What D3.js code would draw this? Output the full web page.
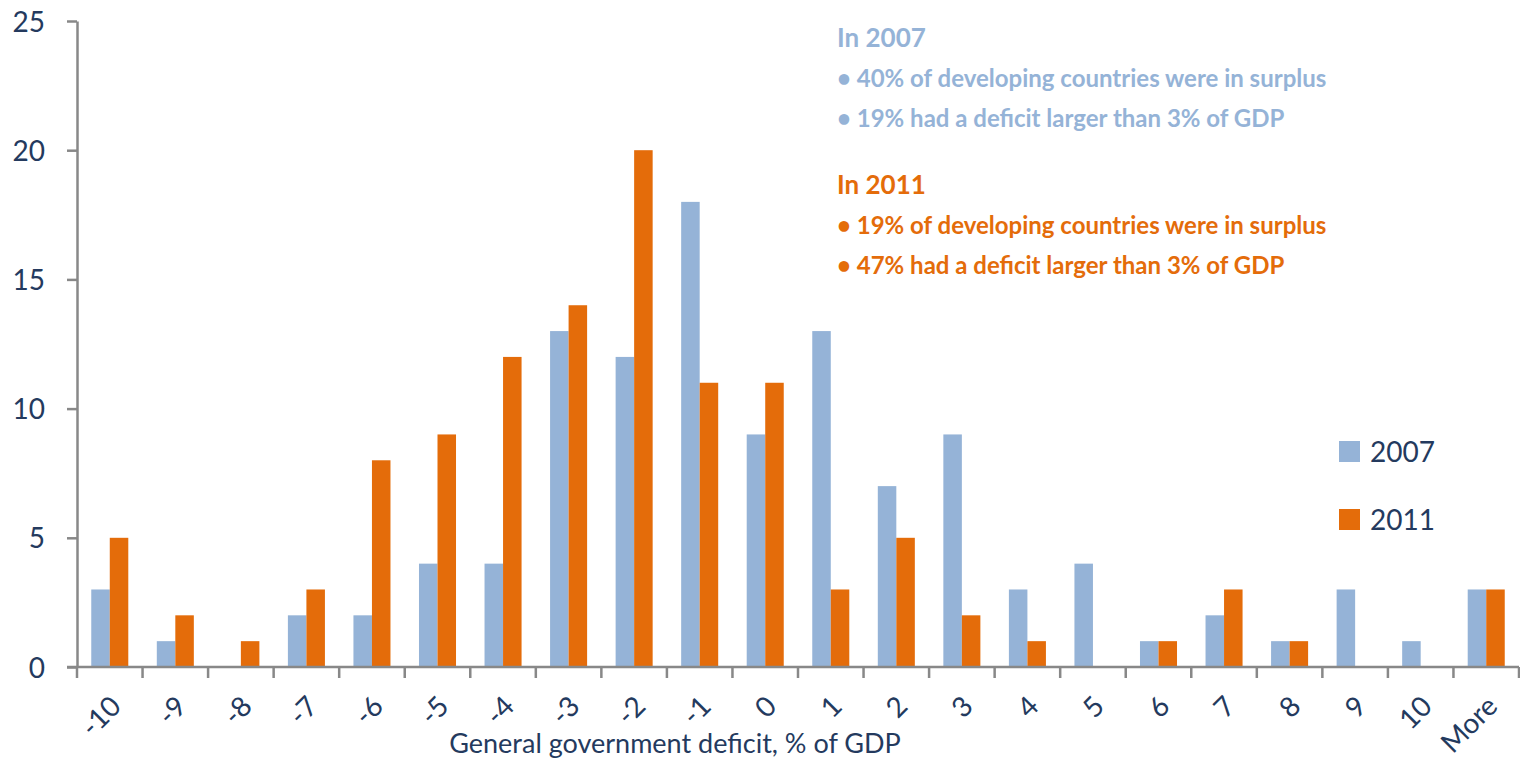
<!DOCTYPE html>
<html>
<head>
<meta charset="utf-8">
<script src="https://cdn.jsdelivr.net/npm/d3@7"></script>
<style>
  body { margin: 0; background: #fff; }
  svg { display: block; }
  text { font-family: Lato, "Open Sans", sans-serif; }
</style>
</head>
<body>
<div id="chart"></div>
<script>
// categories and values
var categories = ["-10", "-9", "-8", "-7", "-6", "-5", "-4", "-3", "-2", "-1", "0",
	"1", "2", "3", "4", "5", "6", "7", "8", "9", "10", "More"];
var values2007 = [3, 1, 0, 2, 2, 4, 4, 13, 12, 18, 9, 13, 7, 9, 3, 4, 1, 2, 1, 3, 1, 3];
var values2011 = [5, 2, 1, 3, 8, 9, 12, 14, 20, 11, 11, 3, 5, 2, 1, 0, 1, 3, 1, 0, 0, 3];
var seriesNames = ["2007", "2011"];
var yTicks = [0, 5, 10, 15, 20, 25];

var notes2007 = ["In 2007", "\u2022 40% of developing countries were in surplus", "\u2022 19% had a deficit larger than 3% of GDP"];
var notes2011 = ["In 2011", "\u2022 19% of developing countries were in surplus", "\u2022 47% had a deficit larger than 3% of GDP"];

var width = 1520;
var height = 778;
var margin = { top: 21, right: 1, bottom: 111, left: 77 };

var textColour = "#243a5e";
var axisColour = "#888";
var colour = d3.scaleOrdinal()
	.domain(seriesNames)
	.range(["#95b3d7", "#e46c0a"]);

var data = categories.map(function(c, i) {
	return { key: c, values: [values2007[i], values2011[i]] };
});

var svg = d3.select("#chart")
	.append("svg")
	.attr("width", width)
	.attr("height", height);

var w = width - margin.left - margin.right;
var h = height - margin.top - margin.bottom;

var g = svg.append("g")
	.attr("transform", "translate(" + margin.left + "," + margin.top + ")");

var x = d3.scaleBand()
	.domain(categories)
	.range([0, w])
	.padding(0);

var x1 = d3.scaleBand()
	.domain(seriesNames)
	.range([0, x.bandwidth()])
	.paddingInner(0)
	.paddingOuter(0.77);

var y = d3.scaleLinear()
	.domain([0, 25])
	.range([h, 0]);

// bars
var groups = g.append("g")
	.attr("class", "bars")
	.selectAll("g")
	.data(data)
	.enter()
	.append("g")
	.attr("transform", function(d) {
		return "translate(" + x(d.key) + ",0)";
	});

groups.selectAll("rect")
	.data(function(d) {
		return seriesNames.map(function(s, j) {
			return { series: s, value: d.values[j] };
		});
	})
	.enter()
	.append("rect")
	.attr("x", function(d) { return x1(d.series); })
	.attr("width", x1.bandwidth())
	.attr("y", function(d) { return y(d.value); })
	.attr("height", function(d) { return h - y(d.value); })
	.attr("fill", function(d) { return colour(d.series); });

// y axis
var yAxis = g.append("g")
	.attr("class", "y-axis")
	.call(d3.axisLeft(y).tickValues(yTicks).tickSize(10).tickPadding(22).tickSizeOuter(0));

yAxis.select(".domain").attr("stroke", axisColour).attr("stroke-width", 2.5);
yAxis.selectAll(".tick line").attr("stroke", axisColour).attr("stroke-width", 2.5);
yAxis.selectAll(".tick text")
	.attr("fill", textColour)
	.style("font-size", "28px")
	.attr("dy", "0.36em");

// x axis, labels only; ticks sit on band edges
var xAxis = g.append("g")
	.attr("class", "x-axis")
	.attr("transform", "translate(0," + h + ")")
	.call(d3.axisBottom(x).tickSize(0).tickSizeOuter(0));

xAxis.select(".domain").attr("stroke", axisColour).attr("stroke-width", 2.5)
	.attr("d", "M-10,0H" + w);

xAxis.selectAll(".tick text")
	.attr("fill", textColour)
	.style("font-size", "28px")
	.style("text-anchor", "end")
	.attr("dy", "0")
	.attr("y", 0)
	.attr("transform", "translate(13,41) rotate(-45)");

xAxis.append("g")
	.selectAll("line")
	.data(categories.map(function(c) { return x(c); }).concat([w]))
	.enter()
	.append("line")
	.attr("x1", function(d) { return d; })
	.attr("x2", function(d) { return d; })
	.attr("y1", 0)
	.attr("y2", 11)
	.attr("stroke", axisColour)
	.attr("stroke-width", 2.5);

svg.append("text")
	.attr("x", 675)
	.attr("y", 753)
	.attr("text-anchor", "middle")
	.attr("fill", textColour)
	.style("font-size", "27px")
	.text("General government deficit, % of GDP");

// legend
var legend = svg.append("g")
	.attr("class", "legend")
	.selectAll("g")
	.data(seriesNames)
	.enter()
	.append("g")
	.attr("transform", function(d, i) {
		return "translate(1339," + (441 + i * 68) + ")";
	});

legend.append("rect")
	.attr("width", 21)
	.attr("height", 21)
	.attr("fill", function(d) { return colour(d); });

legend.append("text")
	.attr("x", 31)
	.attr("y", 21)
	.attr("fill", textColour)
	.style("font-size", "28px")
	.text(function(d) { return d; });

// annotation
function notes(lines, top, col) {
	svg.append("g")
		.selectAll("text")
		.data(lines)
		.enter()
		.append("text")
		.attr("x", 837)
		.attr("y", function(d, i) { return top + i * 40; })
		.attr("fill", col)
		.style("font-size", function(d, i) { return i === 0 ? "26px" : "24px"; })
		.style("font-weight", "bold")
		.text(function(d) { return d; });
}

notes(notes2007, 47, colour("2007"));
notes(notes2011, 194, colour("2011"));
</script>
</body>
</html>
